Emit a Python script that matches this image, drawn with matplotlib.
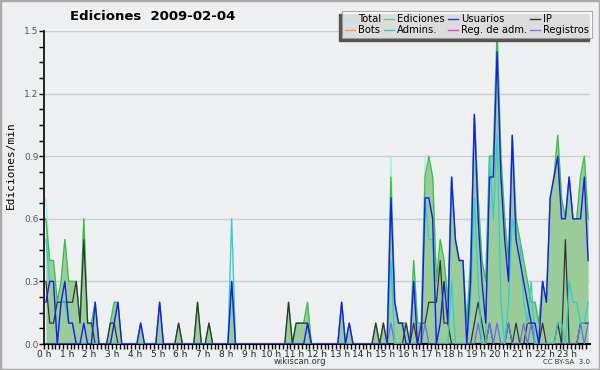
import matplotlib
matplotlib.use("Agg")
import matplotlib.pyplot as plt
import numpy as np

# 10-minute bins, one row per hour (edits per minute)
ediciones = [
    0.6, 0.4, 0.4, 0.2, 0.3, 0.5,
    0.3, 0.3, 0.3, 0.1, 0.6, 0.1,
    0.1, 0.2, 0.0, 0.0, 0.0, 0.1,
    0.2, 0.2, 0.0, 0.0, 0.0, 0.0,
    0.0, 0.1, 0.0, 0.0, 0.0, 0.0,
    0.2, 0.0, 0.0, 0.0, 0.0, 0.1,
    0.0, 0.0, 0.0, 0.0, 0.2, 0.0,
    0.0, 0.1, 0.0, 0.0, 0.0, 0.0,
    0.0, 0.3, 0.0, 0.0, 0.0, 0.0,
    0.0, 0.0, 0.0, 0.0, 0.0, 0.0,
    0.0, 0.0, 0.0, 0.0, 0.2, 0.0,
    0.1, 0.1, 0.1, 0.2, 0.0, 0.0,
    0.0, 0.0, 0.0, 0.0, 0.0, 0.0,
    0.2, 0.0, 0.1, 0.0, 0.0, 0.0,
    0.0, 0.0, 0.0, 0.1, 0.0, 0.1,
    0.0, 0.8, 0.2, 0.1, 0.1, 0.1,
    0.0, 0.4, 0.1, 0.1, 0.8, 0.9,
    0.8, 0.3, 0.5, 0.4, 0.2, 0.8,
    0.5, 0.4, 0.4, 0.1, 0.4, 1.1,
    0.7, 0.4, 0.3, 0.9, 0.9, 1.5,
    0.9, 0.6, 0.4, 1.0, 0.6, 0.5,
    0.4, 0.3, 0.2, 0.2, 0.1, 0.3,
    0.2, 0.7, 0.8, 1.0, 0.7, 0.6,
    0.8, 0.6, 0.6, 0.8, 0.9, 0.6,
]
total = [
    0.7, 0.4, 0.4, 0.2, 0.3, 0.5,
    0.3, 0.3, 0.3, 0.1, 0.6, 0.1,
    0.1, 0.2, 0.0, 0.0, 0.0, 0.1,
    0.2, 0.2, 0.0, 0.0, 0.0, 0.0,
    0.0, 0.1, 0.0, 0.0, 0.0, 0.0,
    0.2, 0.0, 0.0, 0.0, 0.0, 0.1,
    0.0, 0.0, 0.0, 0.0, 0.2, 0.0,
    0.0, 0.1, 0.0, 0.0, 0.0, 0.0,
    0.0, 0.6, 0.0, 0.0, 0.0, 0.0,
    0.0, 0.0, 0.0, 0.0, 0.0, 0.0,
    0.0, 0.0, 0.0, 0.0, 0.2, 0.0,
    0.1, 0.1, 0.1, 0.2, 0.0, 0.0,
    0.0, 0.0, 0.0, 0.0, 0.0, 0.0,
    0.2, 0.0, 0.1, 0.0, 0.0, 0.0,
    0.0, 0.0, 0.0, 0.1, 0.0, 0.1,
    0.0, 0.9, 0.2, 0.1, 0.1, 0.1,
    0.0, 0.4, 0.1, 0.1, 0.9, 0.9,
    0.8, 0.3, 0.5, 0.4, 0.2, 0.8,
    0.5, 0.4, 0.4, 0.1, 0.4, 1.1,
    0.7, 0.4, 0.3, 0.9, 0.9, 1.5,
    0.9, 0.6, 0.4, 1.0, 0.6, 0.5,
    0.4, 0.3, 0.2, 0.2, 0.1, 0.3,
    0.2, 0.7, 0.8, 1.0, 0.7, 0.6,
    0.8, 0.6, 0.6, 0.8, 0.9, 0.6,
]
usuarios = [
    0.2, 0.3, 0.3, 0.0, 0.2, 0.3,
    0.1, 0.1, 0.0, 0.0, 0.1, 0.0,
    0.0, 0.2, 0.0, 0.0, 0.0, 0.0,
    0.1, 0.2, 0.0, 0.0, 0.0, 0.0,
    0.0, 0.1, 0.0, 0.0, 0.0, 0.0,
    0.2, 0.0, 0.0, 0.0, 0.0, 0.0,
    0.0, 0.0, 0.0, 0.0, 0.0, 0.0,
    0.0, 0.0, 0.0, 0.0, 0.0, 0.0,
    0.0, 0.3, 0.0, 0.0, 0.0, 0.0,
    0.0, 0.0, 0.0, 0.0, 0.0, 0.0,
    0.0, 0.0, 0.0, 0.0, 0.0, 0.0,
    0.0, 0.0, 0.0, 0.1, 0.0, 0.0,
    0.0, 0.0, 0.0, 0.0, 0.0, 0.0,
    0.2, 0.0, 0.1, 0.0, 0.0, 0.0,
    0.0, 0.0, 0.0, 0.0, 0.0, 0.0,
    0.0, 0.7, 0.2, 0.1, 0.1, 0.0,
    0.0, 0.3, 0.0, 0.0, 0.7, 0.7,
    0.6, 0.0, 0.1, 0.3, 0.1, 0.8,
    0.5, 0.4, 0.4, 0.0, 0.3, 1.1,
    0.6, 0.3, 0.1, 0.8, 0.8, 1.4,
    0.8, 0.5, 0.3, 1.0, 0.5, 0.4,
    0.3, 0.2, 0.1, 0.1, 0.0, 0.3,
    0.2, 0.7, 0.8, 0.9, 0.6, 0.6,
    0.8, 0.6, 0.6, 0.6, 0.8, 0.4,
]
ip = [
    0.3, 0.1, 0.1, 0.2, 0.2, 0.2,
    0.2, 0.2, 0.3, 0.1, 0.5, 0.1,
    0.1, 0.0, 0.0, 0.0, 0.0, 0.1,
    0.1, 0.0, 0.0, 0.0, 0.0, 0.0,
    0.0, 0.0, 0.0, 0.0, 0.0, 0.0,
    0.0, 0.0, 0.0, 0.0, 0.0, 0.1,
    0.0, 0.0, 0.0, 0.0, 0.2, 0.0,
    0.0, 0.1, 0.0, 0.0, 0.0, 0.0,
    0.0, 0.0, 0.0, 0.0, 0.0, 0.0,
    0.0, 0.0, 0.0, 0.0, 0.0, 0.0,
    0.0, 0.0, 0.0, 0.0, 0.2, 0.0,
    0.1, 0.1, 0.1, 0.1, 0.0, 0.0,
    0.0, 0.0, 0.0, 0.0, 0.0, 0.0,
    0.0, 0.0, 0.0, 0.0, 0.0, 0.0,
    0.0, 0.0, 0.0, 0.1, 0.0, 0.1,
    0.0, 0.0, 0.0, 0.0, 0.0, 0.1,
    0.0, 0.1, 0.0, 0.1, 0.1, 0.2,
    0.2, 0.2, 0.4, 0.1, 0.1, 0.0,
    0.0, 0.0, 0.0, 0.0, 0.0, 0.1,
    0.2, 0.1, 0.0, 0.1, 0.0, 0.0,
    0.0, 0.0, 0.1, 0.0, 0.1, 0.0,
    0.0, 0.1, 0.1, 0.0, 0.0, 0.1,
    0.0, 0.0, 0.0, 0.1, 0.0, 0.5,
    0.0, 0.0, 0.0, 0.1, 0.1, 0.1,
]
admins = [
    0.5, 0.3, 0.3, 0.0, 0.2, 0.2,
    0.1, 0.1, 0.0, 0.0, 0.0, 0.0,
    0.0, 0.0, 0.0, 0.0, 0.0, 0.0,
    0.0, 0.0, 0.0, 0.0, 0.0, 0.0,
    0.0, 0.0, 0.0, 0.0, 0.0, 0.0,
    0.0, 0.0, 0.0, 0.0, 0.0, 0.0,
    0.0, 0.0, 0.0, 0.0, 0.0, 0.0,
    0.0, 0.0, 0.0, 0.0, 0.0, 0.0,
    0.0, 0.6, 0.0, 0.0, 0.0, 0.0,
    0.0, 0.0, 0.0, 0.0, 0.0, 0.0,
    0.0, 0.0, 0.0, 0.0, 0.0, 0.0,
    0.0, 0.0, 0.0, 0.0, 0.0, 0.0,
    0.0, 0.0, 0.0, 0.0, 0.0, 0.0,
    0.2, 0.0, 0.0, 0.0, 0.0, 0.0,
    0.0, 0.0, 0.0, 0.0, 0.0, 0.0,
    0.0, 0.4, 0.0, 0.0, 0.0, 0.0,
    0.0, 0.0, 0.0, 0.0, 0.7, 0.5,
    0.5, 0.0, 0.0, 0.0, 0.0, 0.3,
    0.0, 0.0, 0.0, 0.0, 0.2, 0.7,
    0.3, 0.0, 0.0, 0.9, 0.6, 1.0,
    0.2, 0.0, 0.2, 0.6, 0.5, 0.5,
    0.2, 0.1, 0.3, 0.0, 0.0, 0.0,
    0.0, 0.0, 0.0, 0.1, 0.1, 0.0,
    0.3, 0.2, 0.2, 0.1, 0.1, 0.2,
]
registros = [0.0] * 91 + [
    0.1, 0.0, 0.0, 0.0, 0.0,
    0.0, 0.0, 0.0, 0.0, 0.1, 0.0,
    0.0, 0.0, 0.0, 0.0, 0.0, 0.0,
    0.0, 0.0, 0.0, 0.0, 0.0, 0.0,
    0.1, 0.0, 0.0, 0.1, 0.0, 0.1,
    0.0, 0.0, 0.1, 0.0, 0.0, 0.0,
    0.1, 0.0, 0.1, 0.0, 0.0, 0.0,
    0.0, 0.0, 0.0, 0.0, 0.0, 0.0,
    0.0, 0.0, 0.0, 0.1, 0.0, 0.1,
]
hour_labels = [f"{h} h" for h in range(24)]

BG = "#eeeff1"
x = (np.arange(len(ediciones)) + 0.5) / 6.0

fig = plt.figure(figsize=(6, 3.7), dpi=100, facecolor=BG)
ax = fig.add_axes([44 / 600, 1 - 344 / 370, 546 / 600, 313 / 370])
ax.set_facecolor(BG)

ax.fill_between(x, ediciones, 0, color="#99cc99", lw=0, zorder=2)
ax.plot(x, total, color="#a8ecec", lw=1.0, zorder=3)
ax.plot(x, ediciones, color="#44bb44", lw=1.0, zorder=4)
ax.plot(x, ip, color="#333333", lw=0.9, zorder=5)
ax.plot(x, registros, color="#6b6bef", lw=0.9, zorder=5)
ax.plot(x, admins, color="#33cccc", lw=0.9, zorder=6)
ax.plot(x, usuarios, color="#1a1aee", lw=1.0, zorder=7)

ax.set_xlim(0, 24)
ax.set_ylim(0, 1.5)
ax.set_yticks([0.0, 0.3, 0.6, 0.9, 1.2, 1.5])
ax.set_yticklabels(["0.0", "0.3", "0.6", "0.9", "1.2", "1.5"], color="#555555", fontsize=6.5)
ax.set_yticks(np.arange(0, 1.5, 0.075), minor=True)
ax.set_xticks(range(24))
ax.set_xticklabels(hour_labels, fontsize=6.5, color="#222222")
ax.set_xticks(np.arange(0, 24, 1 / 6), minor=True)
ax.tick_params(axis="both", which="both", direction="out", length=3.5, width=1, pad=0.5)
ax.grid(axis="y", color="#cccccc", lw=1, zorder=0)
for side in ["top", "right"]:
    ax.spines[side].set_visible(False)
ax.spines["left"].set_linewidth(1.2)
ax.spines["bottom"].set_linewidth(1.5)

fig.text(11 / 600, 1 - 165 / 370, "Ediciones/min", family="DejaVu Sans Mono", fontsize=8,
         rotation=90, ha="center", va="center")
fig.text(153 / 600, 1 - 16 / 370, "Ediciones  2009-02-04", ha="center", va="center",
         fontsize=9.5, fontweight="bold")
fig.text(300 / 600, 1 - 362 / 370, "wikiscan.org", ha="center", va="center",
         fontsize=6, color="#333333")
fig.text(590 / 600, 1 - 362 / 370, "CC BY-SA  3.0", ha="right", va="center",
         fontsize=5, color="#333333")

names = ["Total", "Bots", "Ediciones", "Admins.", "Usuarios", "Reg. de adm.", "IP", "Registros"]
colors = ["#a8ecec", "#ff9933", "#77cc77", "#33cccc", "#3333dd", "#dd44dd", "#333333", "#7777ee"]
handles = [plt.Line2D([], [], color=c, lw=1) for c in colors]
leg = fig.legend(handles, names, ncol=4, loc="upper right", bbox_to_anchor=(592 / 600, 1 - 11 / 370),
                 fontsize=7.2, frameon=True, fancybox=False,
                 handlelength=1.0, handletextpad=0.3, columnspacing=0.3, labelspacing=0.12,
                 borderpad=0.3, borderaxespad=0)
leg.get_frame().set_edgecolor("#999999")
leg.get_frame().set_facecolor("white")
leg.get_frame().set_linewidth(0.8)
leg.set_zorder(10)

# drop shadow below-left of the legend box
fig.canvas.draw()
bb = leg.get_window_extent().transformed(fig.transFigure.inverted())
fig.patches.append(plt.Rectangle((bb.x0 - 3 / 600, bb.y0 - 3 / 370), bb.width, bb.height,
                                 transform=fig.transFigure, color="#555555", zorder=9))

fig.patches.append(plt.Rectangle((0, 0), 1, 1, transform=fig.transFigure, fill=False,
                                 edgecolor="#aaaaaa", lw=2.5))

fig.savefig("out.png", dpi=100, facecolor=BG)
